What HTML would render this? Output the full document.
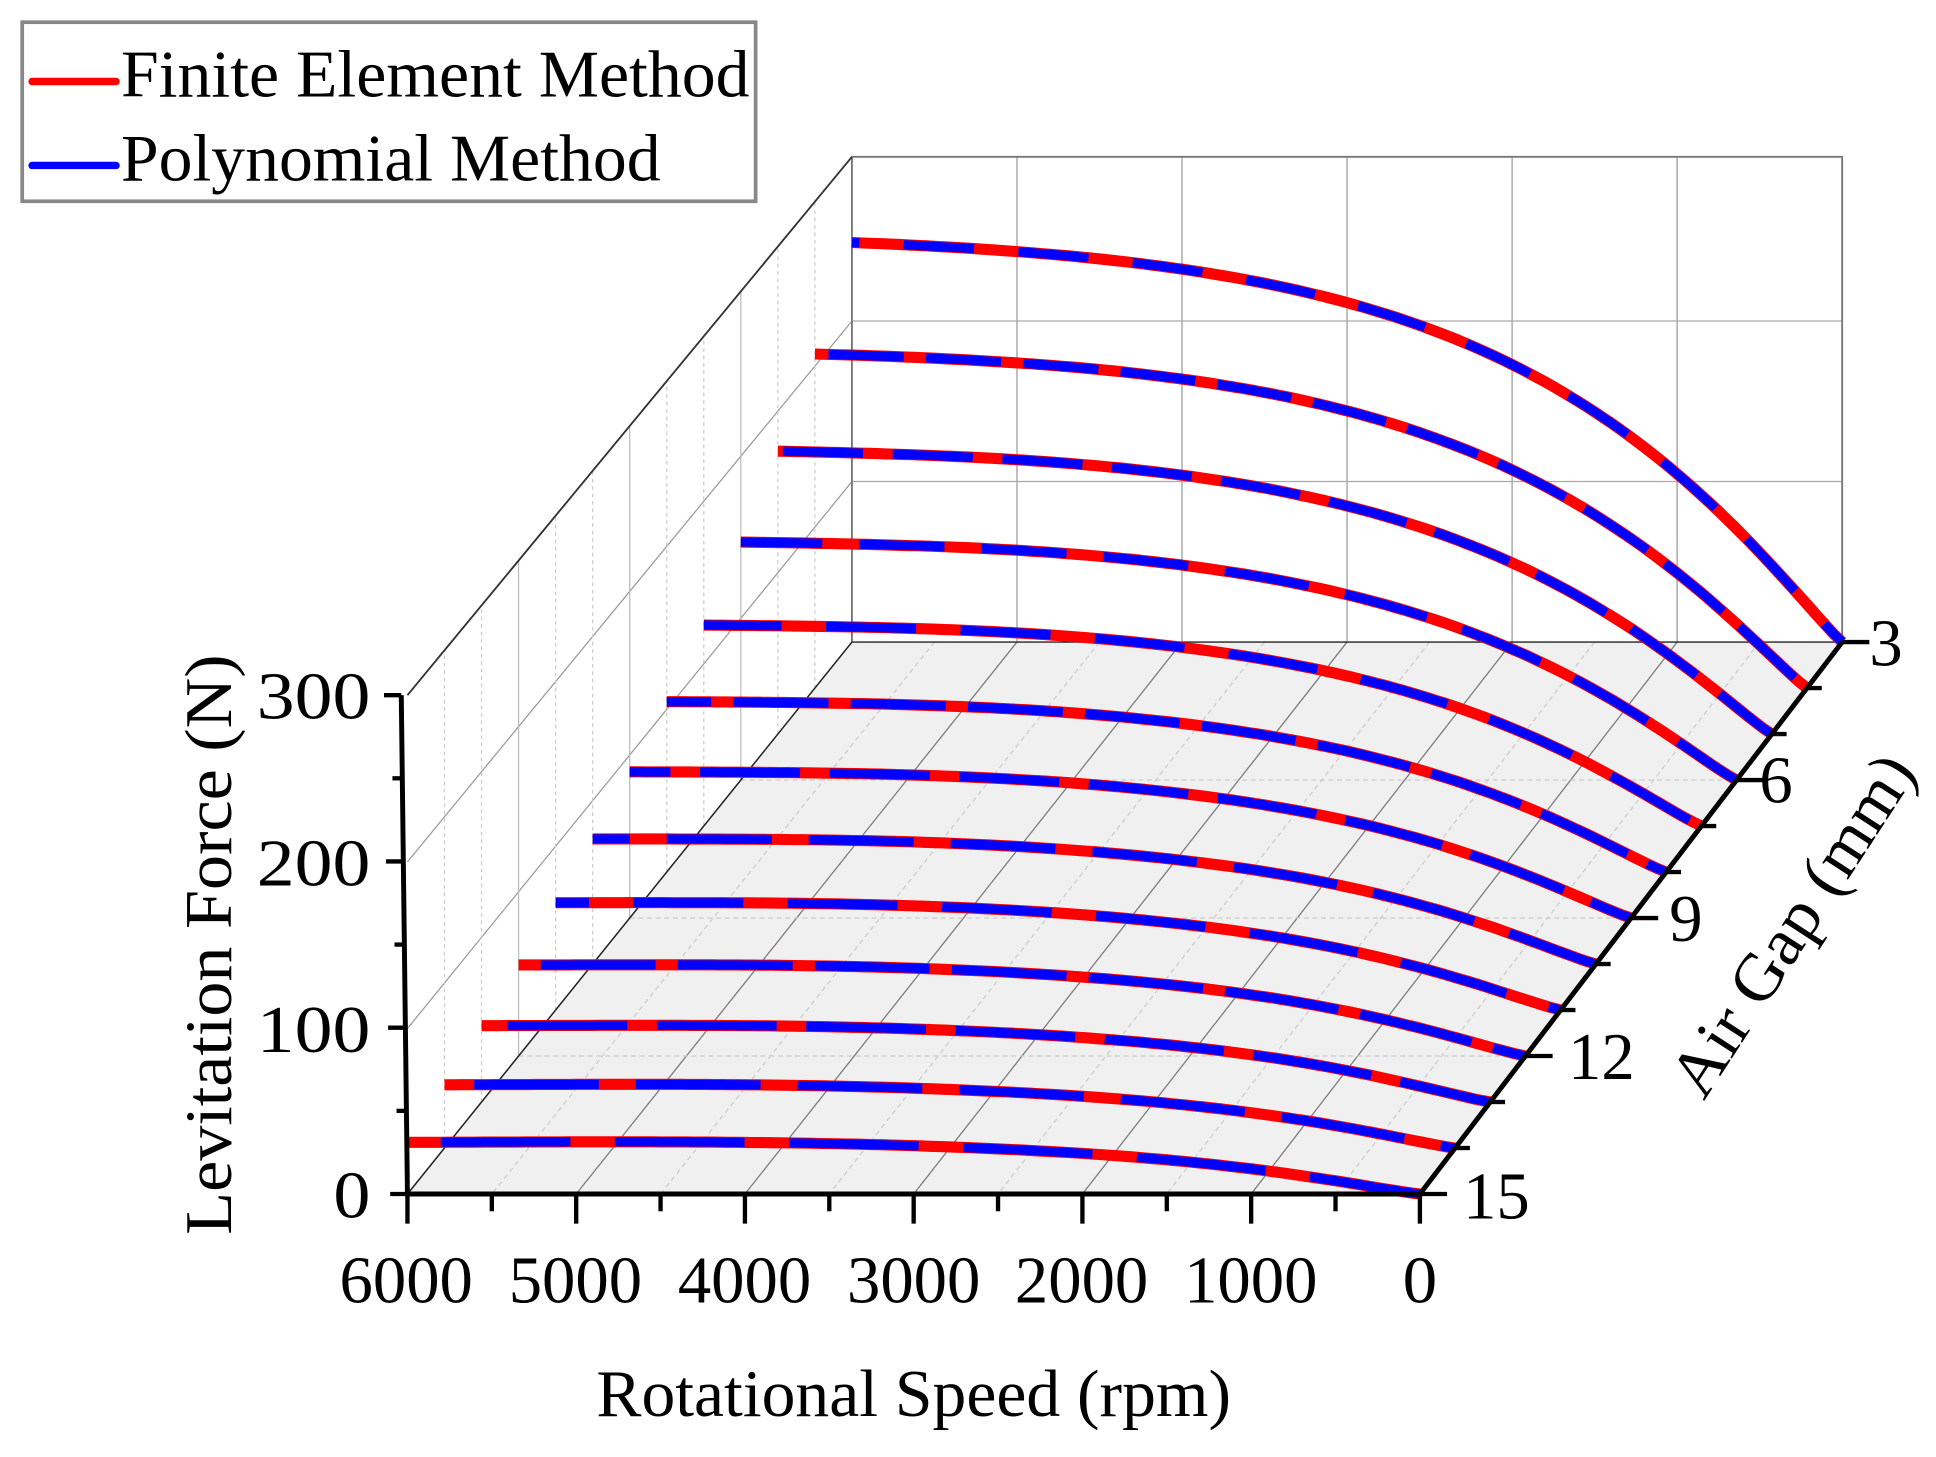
<!DOCTYPE html>
<html><head><meta charset="utf-8"><style>
html,body{margin:0;padding:0;background:#fff;}
svg{display:block;}
text{font-family:"Liberation Serif",serif;fill:#000;}
</style></head><body>
<svg id="s" width="1936" height="1457" viewBox="0 0 1568 1180" preserveAspectRatio="none" xmlns="http://www.w3.org/2000/svg">
<rect width="1568" height="1180" fill="#fff"/>
<polygon points="690,520 1492,520 1150,967 330,967" fill="#f0f0f0"/>
<g id="grid" fill="none" stroke-width="1"></g>
<polyline points="690,520 690,127 1492,127 1492,520" fill="none" stroke="#777" stroke-width="1.5"/>
<line x1="690" y1="520" x2="1492" y2="520" stroke="#222" stroke-width="1.2"/>
<line x1="690" y1="127" x2="330" y2="563" stroke="#333" stroke-width="1.5"/>
<line x1="690" y1="520" x2="330" y2="967" stroke="#222" stroke-width="1.2"/>
<g id="curves"></g>
<line x1="325" y1="563" x2="330" y2="967" stroke="#000" stroke-width="4"/>
<line x1="328" y1="967" x2="1152" y2="967" stroke="#000" stroke-width="4"/>
<line x1="1150" y1="967" x2="1492" y2="520" stroke="#000" stroke-width="4"/>
<g id="ticks" stroke="#000" stroke-width="3.5"></g>
<g font-size="54" text-anchor="end">
<text x="300" y="582" textLength="92" lengthAdjust="spacingAndGlyphs">300</text>
<text x="300" y="717" textLength="92" lengthAdjust="spacingAndGlyphs">200</text>
<text x="300" y="852" textLength="92" lengthAdjust="spacingAndGlyphs">100</text>
<text x="300" y="986" textLength="30" lengthAdjust="spacingAndGlyphs">0</text>
</g>
<g font-size="54">
<text x="275" y="1055" textLength="108" lengthAdjust="spacingAndGlyphs">6000</text>
<text x="412" y="1055" textLength="108" lengthAdjust="spacingAndGlyphs">5000</text>
<text x="549" y="1055" textLength="108" lengthAdjust="spacingAndGlyphs">4000</text>
<text x="686" y="1055" textLength="108" lengthAdjust="spacingAndGlyphs">3000</text>
<text x="822" y="1055" textLength="108" lengthAdjust="spacingAndGlyphs">2000</text>
<text x="959" y="1055" textLength="108" lengthAdjust="spacingAndGlyphs">1000</text>
<text x="1136" y="1055" textLength="28" lengthAdjust="spacingAndGlyphs">0</text>
</g>
<g font-size="54">
<text x="1514" y="539">3</text><text x="1425" y="650">6</text><text x="1352" y="762">9</text><text x="1270" y="874">12</text><text x="1185" y="987">15</text>
</g>
<text x="483" y="1147" font-size="54" textLength="514" lengthAdjust="spacingAndGlyphs">Rotational Speed (rpm)</text>
<text transform="translate(187,1000) rotate(-90)" font-size="54" textLength="470" lengthAdjust="spacingAndGlyphs">Levitation Force (N)</text>
<text transform="translate(1380,892) rotate(-57)" font-size="54" textLength="318" lengthAdjust="spacingAndGlyphs">Air Gap (mm)</text>
<rect x="18" y="18" width="594" height="145" fill="#fff" stroke="#888" stroke-width="3"/>
<line x1="26" y1="66" x2="94" y2="66" stroke="#f00" stroke-width="6" stroke-linecap="round"/>
<line x1="26" y1="134" x2="94" y2="134" stroke="#00f" stroke-width="6" stroke-linecap="round"/>
<text x="98" y="78" font-size="54" textLength="509" lengthAdjust="spacingAndGlyphs">Finite Element Method</text>
<text x="98" y="146" font-size="54" textLength="437" lengthAdjust="spacingAndGlyphs">Polynomial Method</text>
</svg>
<script>
(function(){
var NS="http://www.w3.org/2000/svg";
function el(p,n,a){var e=document.createElementNS(NS,n);for(var k in a)e.setAttribute(k,a[k]);p.appendChild(e);return e;}
function P(rpm,g,F){var t=(g-3)/12;var w=802+18*t;var x=690-360*t+(1-rpm/6000)*w;var s=1.31+0.04*t;var y=520+447*t-F*s;return [x,y];}
var grid=document.getElementById('grid');
for(var i=1;i<6;i++){var x=690+i*802/6;el(grid,'line',{x1:x,y1:127,x2:x,y2:520,stroke:'#999'});}
[260,390].forEach(function(y){el(grid,'line',{x1:690,y1:y,x2:1492,y2:y,stroke:'#aaa'});
 el(grid,'line',{x1:690,y1:y,x2:330,y2:y+438+(y==390?5:0),stroke:'#999'});});
for(var g=6;g<=12;g+=3){var t=(g-3)/12;var x=690-360*t;var yb=520+447*t;el(grid,'line',{x1:x,y1:yb,x2:x,y2:127+436*t,stroke:'#bbb'});}
for(var g=4;g<=14;g++){if(g%3==0)continue;var t=(g-3)/12;var x=690-360*t;el(grid,'line',{x1:x,y1:520+447*t,x2:x,y2:127+436*t,stroke:'#ccc','stroke-dasharray':'3 3'});}
for(var r=0;r<=6000;r+=500){var a=P(r,3,0),b=P(r,15,0);el(grid,'line',{x1:a[0],y1:a[1],x2:b[0],y2:b[1],stroke:r%1000==0?'#777':'#ccc','stroke-dasharray':r%1000==0?'':'4 3'});}
for(var g=6;g<=12;g+=3){var a=P(6000,g,0),b=P(0,g,0);el(grid,'line',{x1:a[0],y1:a[1],x2:b[0],y2:b[1],stroke:'#ccc','stroke-dasharray':'4 3'});}
var L={3:247,4:206,5:174,6:146,7:123,8:104,9:89,10:76,11:65,12:55,13:46,14:38,15:31};
var cv=document.getElementById('curves');
for(var g=3;g<=15;g++){
 var t=(g-3)/12;
 var r0=1.78-0.38*t, pw=1.1+0.08*t;
 var norm=1-Math.exp(-Math.pow(6/r0,pw));
 var d='';
 for(var k=0;k<=120;k++){var rpm=6000-k*50;var q=rpm/1000;
  var F=L[g]*(1-Math.exp(-Math.pow(q/r0,pw)))/norm;
  F*=(1+0.04*t*Math.exp(-Math.pow((q-4)/1.8,2)))/(1+0.04*t*Math.exp(-Math.pow(2/1.8,2)));
  var p=P(rpm,g,F);d+=(k?'L':'M')+p[0].toFixed(1)+','+p[1].toFixed(1);}
 el(cv,'path',{d:d,fill:'none',stroke:'#f00','stroke-width':9});
 el(cv,'path',{d:d,fill:'none',stroke:'#00f','stroke-width':7.5,'stroke-dasharray':(45+g*4)+' '+(18+g%4*6),'stroke-dashoffset':g*17});
}
var tk=document.getElementById('ticks');
for(var i=0;i<=6;i++){var v=i*50;var y=967-(967-563)*v/300;var x=330-5*v/300;el(tk,'line',{x1:x-(i%2==0?14:8),y1:y,x2:x,y2:y});}
for(var i=0;i<=12;i++){var x=330+i*820/12;el(tk,'line',{x1:x,y1:967,x2:x,y2:967+(i%2==0?24:14)});}
for(var g=3;g<=15;g++){var p=P(0,g,0);var maj=(g%3==0);el(tk,'line',{x1:p[0],y1:p[1],x2:p[0]+(maj?22:12),y2:p[1]});}
})();
</script>
</body></html>
